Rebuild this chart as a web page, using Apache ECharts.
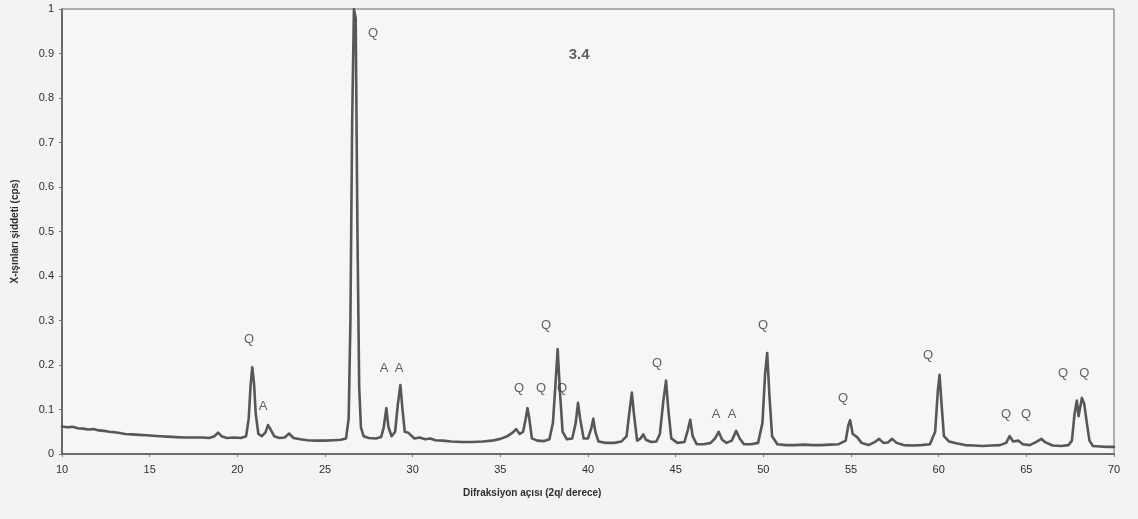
<!DOCTYPE html>
<html>
<head>
<meta charset="utf-8">
<script src="https://cdn.jsdelivr.net/npm/echarts@6/dist/echarts.min.js"></script>
<style>
html,body{margin:0;padding:0;background:#f3f3f1;}
#chart{width:1138px;height:519px;}
</style>
</head>
<body>
<div id="chart"></div>
<script>
// 2-theta angles (degrees)
const angles = [
10.0,10.3,10.6,10.9,11.2,11.5,11.8,12.1,12.4,12.7,13.0,13.3,13.6,14.0,14.4,14.8,15.2,15.6,16.0,16.5,17.0,17.5,18.0,18.4,18.7,18.9,19.1,19.4,19.8,20.2,20.5,
20.65,20.75,20.85,20.95,21.05,21.2,21.4,21.6,21.75,21.9,22.1,22.4,22.7,22.95,23.2,23.6,24.0,24.5,25.0,25.5,25.9,26.2,
26.35,26.45,26.55,26.65,26.75,26.85,26.95,27.05,27.2,27.5,27.9,28.2,28.35,28.5,28.62,28.8,29.0,29.15,29.3,29.42,29.55,29.75,29.9,
30.1,30.4,30.7,31.0,31.3,31.7,32.2,32.8,33.4,34.0,34.5,35.0,35.4,35.7,35.9,36.1,36.3,36.45,36.55,36.65,36.8,37.1,37.5,37.8,
38.0,38.15,38.27,38.4,38.55,38.8,39.1,39.3,39.43,39.55,39.75,40.0,40.2,40.3,40.42,40.6,41.0,41.5,41.9,42.2,42.38,42.5,42.62,42.8,
43.0,43.15,43.3,43.6,43.9,44.1,44.3,44.45,44.58,44.75,45.1,45.5,45.7,45.83,45.97,46.2,46.6,47.0,47.25,47.45,47.65,47.9,48.2,48.45,48.65,48.9,
49.3,49.7,49.95,50.1,50.22,50.35,50.5,50.8,51.3,51.8,52.3,52.8,53.3,53.8,54.3,54.7,54.85,54.95,55.1,55.35,55.6,56.0,56.4,56.6,56.85,57.1,57.35,57.6,
58.0,58.5,59.0,59.5,59.8,59.95,60.05,60.15,60.3,60.6,61.0,61.5,62.0,62.5,63.0,63.5,63.85,64.05,64.25,64.55,64.8,65.2,65.6,65.85,66.1,66.5,
67.0,67.4,67.6,67.75,67.88,67.98,68.05,68.17,68.3,68.45,68.6,68.8,69.2,69.6,70.0
];
// intensities (cps, normalised)
const intensity = [
0.062,0.060,0.061,0.058,0.057,0.055,0.056,0.053,0.052,0.050,0.049,0.047,0.045,0.044,0.043,0.042,0.041,0.040,0.039,0.038,0.037,0.037,0.037,0.036,0.040,0.048,0.040,0.036,0.037,0.036,0.040,
0.080,0.150,0.195,0.160,0.090,0.045,0.040,0.048,0.065,0.055,0.040,0.036,0.037,0.046,0.036,0.033,0.031,0.030,0.030,0.031,0.032,0.035,
0.080,0.300,0.750,1.000,0.980,0.500,0.150,0.060,0.040,0.036,0.035,0.038,0.060,0.103,0.060,0.040,0.050,0.110,0.155,0.100,0.050,0.048,0.042,
0.035,0.037,0.033,0.035,0.031,0.030,0.028,0.027,0.027,0.028,0.030,0.034,0.040,0.048,0.056,0.045,0.050,0.080,0.103,0.080,0.035,0.030,0.029,0.033,
0.070,0.160,0.236,0.140,0.050,0.033,0.035,0.070,0.115,0.080,0.035,0.035,0.060,0.079,0.050,0.028,0.025,0.025,0.028,0.040,0.100,0.138,0.090,0.030,
0.035,0.044,0.032,0.027,0.028,0.045,0.120,0.165,0.100,0.035,0.025,0.027,0.055,0.077,0.040,0.022,0.022,0.025,0.035,0.050,0.032,0.025,0.030,0.052,0.035,0.022,
0.022,0.025,0.070,0.180,0.227,0.130,0.040,0.022,0.020,0.020,0.021,0.020,0.020,0.021,0.022,0.030,0.065,0.076,0.045,0.038,0.025,0.020,0.028,0.034,0.025,0.026,0.034,0.025,
0.020,0.019,0.020,0.022,0.050,0.140,0.178,0.120,0.040,0.028,0.024,0.020,0.019,0.018,0.019,0.020,0.025,0.040,0.028,0.030,0.022,0.020,0.028,0.034,0.026,0.019,
0.018,0.020,0.030,0.090,0.120,0.085,0.085,0.126,0.113,0.070,0.030,0.018,0.017,0.016,0.016
];
// peak annotation labels: phase, angle, height
const peakLabels = ['Q','Q','A','A','A','Q','Q','Q','Q','Q','A','A','Q','Q','Q','Q','Q','Q','Q'];
const peakLabelX = [27.74,20.67,21.47,28.37,29.22,36.07,37.61,37.32,38.52,43.94,47.31,48.22,49.99,54.55,59.40,63.85,64.99,67.10,68.30];
const peakLabelY = [0.946,0.258,0.108,0.193,0.193,0.148,0.288,0.148,0.148,0.204,0.088,0.088,0.288,0.126,0.222,0.088,0.088,0.180,0.180];
const sampleLabel = '3.4';
const xTitle = 'Difraksiyon açısı (2q/ derece)';
const yTitle = 'X-ışınları şiddeti (cps)';

const lineData = angles.map((a, i) => [a, intensity[i]]);
const labelData = peakLabelX.map((x, i) => ({value: [x, peakLabelY[i]], name: peakLabels[i]}));

const chart = echarts.init(document.getElementById('chart'));
chart.setOption({
  backgroundColor: '#f3f3f1',
  animation: false,
  grid: {left: 62, right: 24, top: 9, bottom: 65, show: true, borderColor: '#6a6a6a', borderWidth: 1, backgroundColor: '#f6f6f4'},
  xAxis: {
    type: 'value', min: 10, max: 70, interval: 5,
    axisLine: {lineStyle: {color: '#555', width: 1.5}},
    axisTick: {show: true, length: 3, lineStyle: {color: '#777'}},
    axisLabel: {color: '#2e2e2e', fontSize: 11, fontFamily: 'Liberation Sans, Arial', margin: 10},
    splitLine: {show: false}
  },
  yAxis: {
    type: 'value', min: 0, max: 1, interval: 0.1,
    name: yTitle, nameLocation: 'middle', nameGap: 42, nameRotate: 90,
    nameTextStyle: {color: '#2e2e2e', fontSize: 10, fontWeight: 'bold', fontFamily: 'Liberation Sans, Arial'},
    axisLine: {lineStyle: {color: '#555', width: 1.5}},
    axisTick: {show: true, length: 3, lineStyle: {color: '#777'}},
    axisLabel: {color: '#2e2e2e', fontSize: 11, fontFamily: 'Liberation Sans, Arial', margin: 8,
      formatter: v => String(Math.round(v * 10) / 10)},
    splitLine: {show: false}
  },
  graphic: [
    {type: 'text', left: 463, top: 488, style: {text: xTitle, fill: '#2e2e2e', font: 'bold 10px Liberation Sans, Arial'}}
  ],
  series: [
    {
      type: 'line', data: lineData, showSymbol: false, symbol: 'none', smooth: false,
      lineStyle: {color: '#575757', width: 2.6, join: 'round', cap: 'round'}, z: 2
    },
    {
      type: 'scatter', data: labelData, symbolSize: 0, z: 3,
      label: {show: true, position: 'inside', formatter: p => p.name, color: '#3a3a3a', fontSize: 13, fontFamily: 'Liberation Sans, Arial'}
    },
    {
      type: 'scatter', data: [{value: [39.49, 0.897], name: sampleLabel}], symbolSize: 0, z: 3,
      label: {show: true, position: 'inside', formatter: p => p.name, color: '#3a3a3a', fontSize: 15, fontWeight: 'bold', fontFamily: 'Liberation Sans, Arial'}
    }
  ]
});
</script>
</body>
</html>
